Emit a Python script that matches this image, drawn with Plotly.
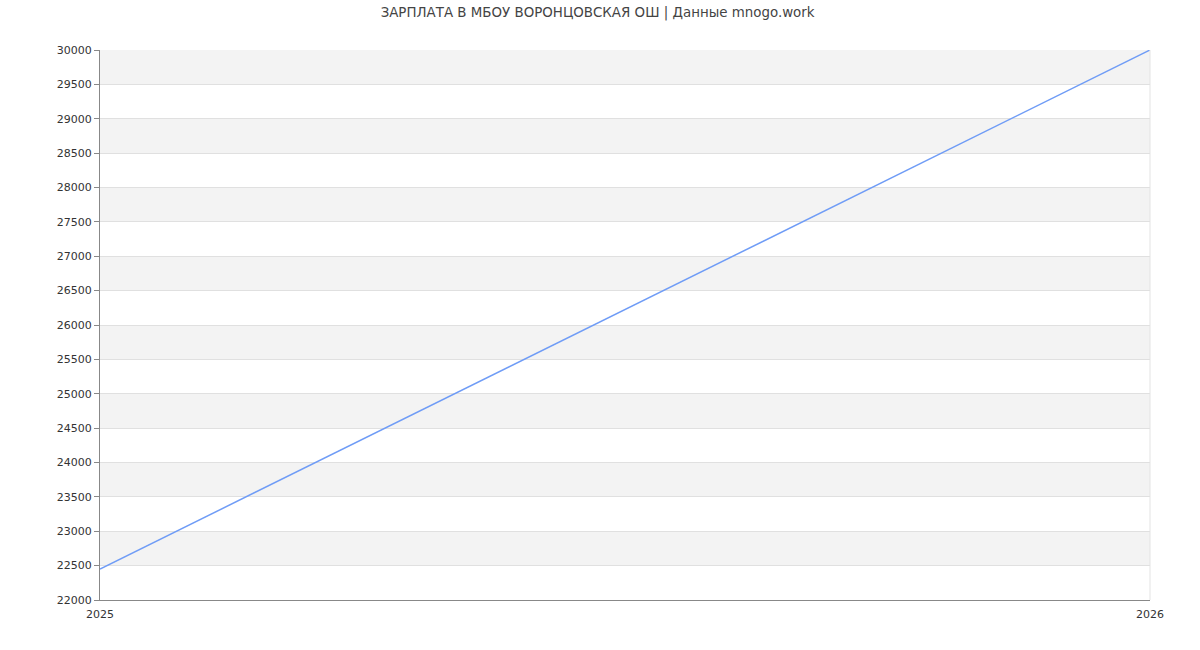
import plotly.graph_objects as go

# data
years = [2025, 2026]
salary = [22450, 30000]
y_ticks = list(range(22000, 30001, 500))

title = "ЗАРПЛАТА В МБОУ ВОРОНЦОВСКАЯ ОШ | Данные mnogo.work"

fig = go.Figure()
fig.add_trace(go.Scatter(x=years, y=salary, mode="lines",
                         line=dict(color="#6f9cf6", width=1.5),
                         hoverinfo="x+y", showlegend=False))

# alternating grey bands, every other 500 step
shapes = []
for lo in y_ticks[1:-1:2]:
    shapes.append(dict(type="rect", xref="paper", yref="y", x0=0, x1=1,
                       y0=lo, y1=lo + 500, fillcolor="#f3f3f3",
                       line=dict(width=0), layer="below"))
# light border on the right
shapes.append(dict(type="line", xref="paper", yref="paper", x0=1, x1=1,
                   y0=0, y1=1, line=dict(color="#e3e3e3", width=1)))

fig.update_layout(
    width=1200, height=650,
    margin=dict(l=100, r=50, t=50, b=50),
    paper_bgcolor="white", plot_bgcolor="white",
    font=dict(family="DejaVu Sans", size=11, color="#333333"),
    title=dict(text=title, x=0.498, xanchor="center", y=1 - 12 / 650, yref="container",
               yanchor="middle", font=dict(size=13.4, color="#444444")),
    shapes=shapes,
)
fig.update_xaxes(range=[2025, 2026], tickvals=years, ticktext=[str(y) for y in years],
                 showgrid=False, zeroline=False, showline=True,
                 linecolor="#888888", linewidth=1, ticks="", ticklabelstandoff=4)
fig.update_yaxes(range=[22000, 30000], tickvals=y_ticks, ticktext=[str(v) for v in y_ticks],
                 showgrid=True, gridcolor="#e0e0e0", gridwidth=1, zeroline=False,
                 showline=True, linecolor="#888888", linewidth=1,
                 ticks="outside", ticklen=5, tickcolor="#888888")

# drop the default 8px body margin so the figure fills the window
fig.write_html("out.html", config={"displayModeBar": False},
               post_script="document.body.style.margin='0';")
